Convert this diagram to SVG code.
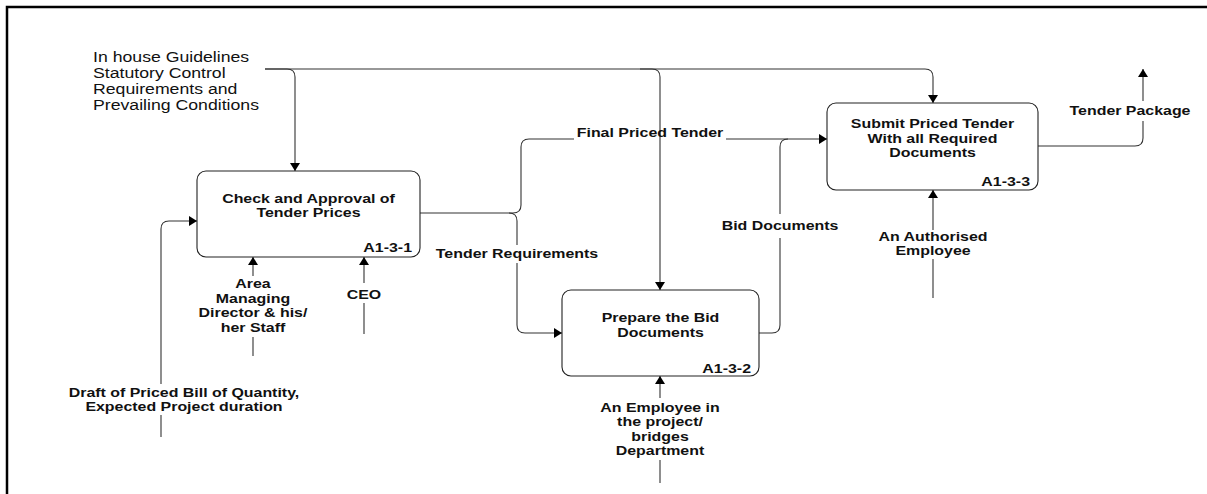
<svg xmlns="http://www.w3.org/2000/svg" width="1207" height="494" viewBox="0 0 1207 494">
<defs>
<marker id="arr" markerUnits="userSpaceOnUse" viewBox="0 0 8 10" markerWidth="8" markerHeight="10" refX="8" refY="5" orient="auto">
<path d="M0,0 L8,5 L0,10 z" fill="#000"/>
</marker>
<style>
.box{fill:#fff;stroke:#222;stroke-width:1.1}
.c{fill:none;stroke:#333;stroke-width:1.1}
.b{font-family:"Liberation Sans",Arial,sans-serif;font-weight:bold;font-size:13.5px;fill:#111}
.n{font-family:"Liberation Sans",Arial,sans-serif;font-size:14.5px;fill:#111}
.m{text-anchor:middle}
.e{text-anchor:end}
</style>
</defs>
<rect width="1207" height="494" fill="#fff"/>
<path d="M7,494 V7 H1207" fill="none" stroke="#000" stroke-width="2.5"/>

<g id="connectors">
<path class="c" d="M265,69 H925 Q933,69 933,77 V103" marker-end="url(#arr)"/>
<path class="c" d="M265,69 H287 Q295,69 295,77 V171" marker-end="url(#arr)"/>
<path class="c" d="M640,69 H652 Q660,69 660,77 V290" marker-end="url(#arr)"/>
<path class="c" d="M161,437 V415 M161,384 V229 Q161,221 169,221 H197" marker-end="url(#arr)"/>
<path class="c" d="M253,356 V337 M253,276 V257" marker-end="url(#arr)"/>
<path class="c" d="M364,334 V303 M364,283 V257" marker-end="url(#arr)"/>
<path class="c" d="M660,483 V460 M660,398 V376" marker-end="url(#arr)"/>
<path class="c" d="M933,298 V259 M933,230 V190" marker-end="url(#arr)"/>
<path class="c" d="M420,213 H509 Q517,213 517,221 V245 M517,263 V325 Q517,333 525,333 H562" marker-end="url(#arr)"/>
<path class="c" d="M509,213 H513 Q521,213 521,205 V147 Q521,139 529,139 H574 M726,139 H827" marker-end="url(#arr)"/>
<path class="c" d="M759,333 H772 Q780,333 780,325 V238 M780,214 V147 Q780,139 788,139"/>
<path class="c" d="M1038,146 H1135 Q1143,146 1143,138 V121 M1143,101 V69" marker-end="url(#arr)"/>
</g>

<g id="labels">
<text class="n" transform="translate(93,72) scale(1.22,1)"><tspan x="0" y="-10">In house Guidelines</tspan><tspan x="0" y="6">Statutory Control</tspan><tspan x="0" y="22">Requirements and</tspan><tspan x="0" y="38">Prevailing Conditions</tspan></text>
<text class="b m" transform="translate(184,397) scale(1.18,1)"><tspan x="0" y="0">Draft of Priced Bill of Quantity,</tspan><tspan x="0" y="14.5">Expected Project duration</tspan></text>
<text class="b m" transform="translate(253,288) scale(1.18,1)"><tspan x="0" y="0">Area</tspan><tspan x="0" y="14.7">Managing</tspan><tspan x="0" y="29.4">Director &amp; his/</tspan><tspan x="0" y="44.1">her Staff</tspan></text>
<text class="b m" transform="translate(364,299) scale(1.18,1)">CEO</text>
<text class="b m" transform="translate(660,412) scale(1.18,1)"><tspan x="0" y="0">An Employee in</tspan><tspan x="0" y="14.5">the project/</tspan><tspan x="0" y="29">bridges</tspan><tspan x="0" y="43.5">Department</tspan></text>
<text class="b m" transform="translate(933,241) scale(1.18,1)"><tspan x="0" y="0">An Authorised</tspan><tspan x="0" y="14.5">Employee</tspan></text>
<text class="b m" transform="translate(517,258) scale(1.18,1)">Tender Requirements</text>
<text class="b m" transform="translate(650,137) scale(1.18,1)">Final Priced Tender</text>
<text class="b m" transform="translate(780,230) scale(1.18,1)">Bid Documents</text>
<text class="b m" transform="translate(1130,115) scale(1.18,1)">Tender Package</text>
</g>

<g id="node-a131">
<rect class="box" x="197" y="171" width="223" height="86" rx="9"/>
<text class="b m" transform="translate(308.5,203) scale(1.18,1)"><tspan x="0" y="0">Check and Approval of</tspan><tspan x="0" y="14.5">Tender Prices</tspan></text>
<text class="b e" transform="translate(412,252) scale(1.18,1)">A1-3-1</text>
</g>

<g id="node-a132">
<rect class="box" x="562" y="290" width="197" height="86" rx="9"/>
<text class="b m" transform="translate(660.5,322) scale(1.18,1)"><tspan x="0" y="0">Prepare the Bid</tspan><tspan x="0" y="15">Documents</tspan></text>
<text class="b e" transform="translate(751,373) scale(1.18,1)">A1-3-2</text>
</g>

<g id="node-a133">
<rect class="box" x="827" y="103" width="211" height="87" rx="9"/>
<text class="b m" transform="translate(932.5,128) scale(1.18,1)"><tspan x="0" y="0">Submit Priced Tender</tspan><tspan x="0" y="14.7">With all Required</tspan><tspan x="0" y="29.4">Documents</tspan></text>
<text class="b e" transform="translate(1030,186) scale(1.18,1)">A1-3-3</text>
</g>
</svg>
